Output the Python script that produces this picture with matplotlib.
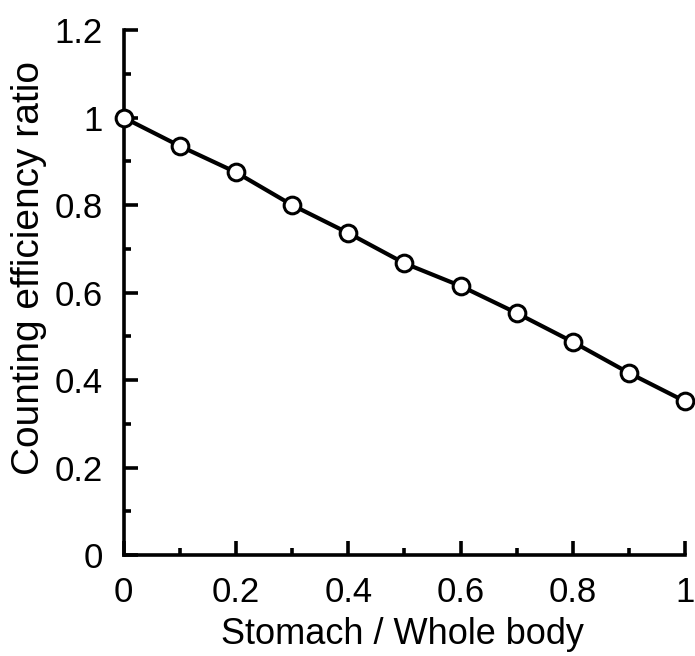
import numpy as np
import matplotlib
matplotlib.use('Agg')
import matplotlib.pyplot as plt
from matplotlib.ticker import MultipleLocator

plt.rcParams['font.family'] = ['Liberation Sans', 'DejaVu Sans']

# Stomach / whole body fraction vs counting efficiency ratio
stomach_fraction = [0.0, 0.1, 0.2, 0.3, 0.4, 0.5, 0.6, 0.7, 0.8, 0.9, 1.0]
efficiency_ratio = [1.0, 0.935, 0.875, 0.80, 0.736, 0.667, 0.615, 0.553, 0.487, 0.416, 0.351]

fig = plt.figure(figsize=(6.95, 6.56), dpi=100)
ax = fig.add_axes([0.178, 0.154, 0.808, 0.80])

ax.plot(stomach_fraction, efficiency_ratio, color='black', lw=3.0,
        marker='o', ms=12, mfc='white', mec='black', mew=2.2, clip_on=False, zorder=3)

ax.set_xlim(0, 1)
ax.set_ylim(0, 1.2)
ax.xaxis.set_major_locator(MultipleLocator(0.2))
ax.xaxis.set_minor_locator(MultipleLocator(0.1))
ax.yaxis.set_major_locator(MultipleLocator(0.2))
ax.yaxis.set_minor_locator(MultipleLocator(0.1))
ax.xaxis.set_major_formatter(lambda v, p: f'{v:g}')
ax.yaxis.set_major_formatter(lambda v, p: f'{v:g}')

for side in ['top', 'right']:
    ax.spines[side].set_visible(False)
for side in ['left', 'bottom']:
    ax.spines[side].set_linewidth(2.6)

ax.tick_params(which='major', direction='in', length=10, width=2.6, labelsize=25, pad=15)
ax.tick_params(which='minor', direction='in', length=5, width=2.6)

ax.set_xlabel('Stomach / Whole body', fontsize=26)
ax.set_ylabel('Counting efficiency ratio', fontsize=28)
ax.xaxis.set_label_coords(0.497, -0.118)
ax.yaxis.set_label_coords(-0.137, 0.547)

fig.savefig('out.png', dpi=100)
